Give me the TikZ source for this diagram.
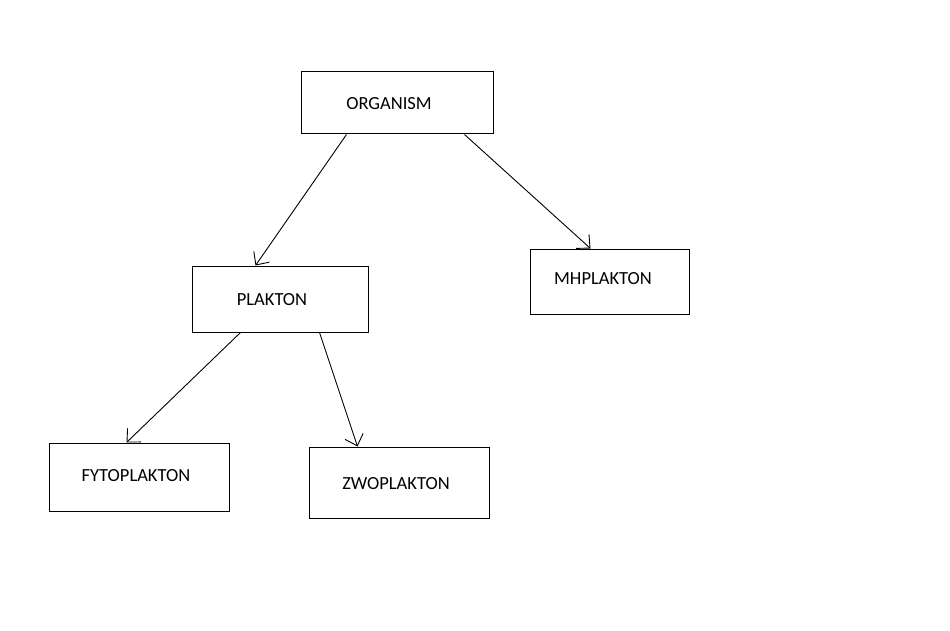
\documentclass[tikz,border=0pt]{standalone}
\usepackage{fontspec}
\setmainfont{Carlito}
\usetikzlibrary{arrows.meta,calc}
\begin{document}
\begin{tikzpicture}[x=1pt,y=-1pt,
  box/.style={draw=black,line width=1pt,rectangle,inner sep=0pt},
  lbl/.style={inner sep=0pt,font=\fontsize{18.5}{22}\selectfont},
  arr/.style={draw=black,line width=0.9pt,-{Straight Barb[length=10pt,width=19pt]}}]
\useasboundingbox[fill=white] (0,0) rectangle (950,631);
% boxes
\node[box,minimum width=192pt,minimum height=62pt] (org) at (397,103) {};
\node[box,minimum width=176pt,minimum height=66pt] (pla) at (280,299) {};
\node[box,minimum width=159pt,minimum height=65pt] (mhp) at (609.5,281.5) {};
\node[box,minimum width=180pt,minimum height=68pt] (fyt) at (139,477) {};
\node[box,minimum width=180pt,minimum height=71pt] (zwo) at (399,482.5) {};
% labels
\node[lbl] (torg) at (389,104) {ORGANISM};
\node[lbl] (tpla) at (272,300) {PLAKTON};
\node[lbl] (tmhp) at (603,279) {MHPLAKTON};
\node[lbl] (tfyt) at (136,476) {FYTOPLAKTON};
\node[lbl] (tzwo) at (396,484) {ZWOPLAKTON};
% arrows
\draw[arr] ($(org.south west)+(46,0)$) -- ($(pla.north west)+(64,0)$);
\draw[arr] ($(org.south west)+(164,0)$) -- ($(mhp.north west)+(61,0)$);
\draw[arr] ($(pla.south west)+(49,0)$) -- ($(fyt.north west)+(78,0)$);
\draw[arr] ($(pla.south west)+(128,0)$) -- ($(zwo.north west)+(49,0)$);
\end{tikzpicture}
\end{document}
